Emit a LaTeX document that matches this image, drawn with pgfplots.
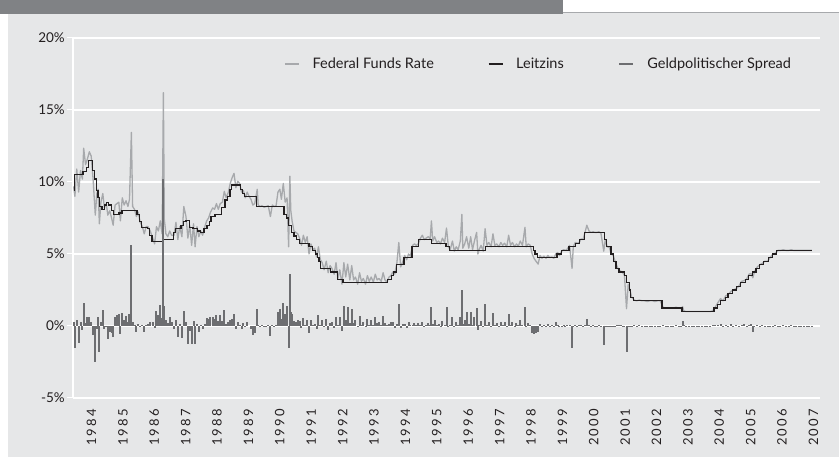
\documentclass[border=0pt]{standalone}
\usepackage{pgfplots}
\usepackage{pgfplotstable}
\pgfplotsset{compat=1.18}
\usepackage{fontspec}
\setmainfont{Lato}
\definecolor{bg}{HTML}{E6E7E8}
\definecolor{barc}{HTML}{808285}
\definecolor{ffrc}{HTML}{A7A9AC}
\definecolor{sprc}{HTML}{6D6E71}
\definecolor{txt}{HTML}{231F20}

\pgfplotstableread{
t f s
1984.10 9.7 0.25
1984.14 9.0 -1.5
1984.20 10.9 0.4
1984.26 9.3 -1.2
1984.32 10.8 0.3
1984.38 10.2 -0.3
1984.42 12.35 1.6
1984.48 11.2 0.2
1984.54 11.6 0.6
1984.60 12.1 0.6
1984.66 11.8 0.3
1984.72 10.2 -0.6
1984.79 7.7 -2.5
1984.84 9.2 -0.2
1984.88 9.5 0.6
1984.92 7.1 -1.8
1984.97 8.6 0.3
1985.03 9.2 1.1
1985.08 8.2 -0.2
1985.14 8.5 -0.1
1985.19 7.7 -0.9
1985.25 8.0 -0.4
1985.31 7.5 -0.5
1985.36 7.0 -0.75
1985.42 8.4 0.65
1985.48 8.5 0.75
1985.54 8.6 0.85
1985.59 7.3 -0.55
1985.65 8.9 0.9
1985.71 8.4 0.4
1985.77 8.7 0.7
1985.83 8.3 0.3
1985.88 8.8 0.8
1985.94 13.45 5.6
1985.98 8.3 0.3
1986.04 8.1 0.1
1986.10 7.6 -0.4
1986.16 7.9 0.15
1986.22 7.2 -0.05
1986.29 6.9 0.05
1986.35 6.4 -0.45
1986.41 6.9 0.05
1986.47 6.9 0.15
1986.54 6.6 0.3
1986.62 6.1 0.25
1986.68 5.7 -0.15
1986.74 6.9 1.05
1986.80 6.6 0.75
1986.86 7.3 1.45
1986.92 6.4 0.55
1986.96 16.2 10.2
1986.99 7.4 1.4
1987.04 6.4 0.4
1987.10 6.2 0.2
1987.16 6.6 0.6
1987.22 6.3 0.3
1987.30 6.3 -0.2
1987.36 7.2 0.45
1987.42 6.0 -0.75
1987.48 6.9 0.15
1987.55 6.2 -0.8
1987.61 8.3 1.05
1987.68 7.6 0.25
1987.74 6.1 -1.25
1987.80 7.0 -0.35
1987.86 5.6 -1.25
1987.92 7.1 0.35
1987.97 5.5 -1.25
1988.03 6.9 0.15
1988.09 6.2 -0.4
1988.15 6.6 0.1
1988.21 6.3 -0.2
1988.28 6.9 0.15
1988.34 7.3 0.55
1988.40 7.5 0.5
1988.46 7.9 0.65
1988.53 8.2 0.6
1988.59 8.1 0.5
1988.65 8.5 0.75
1988.71 8.1 0.35
1988.77 8.5 0.75
1988.84 8.6 0.35
1988.90 9.35 1.1
1988.96 8.9 0.15
1989.03 9.3 0.3
1989.09 9.9 0.4
1989.15 10.3 0.5
1989.21 10.6 0.8
1989.27 9.6 -0.2
1989.33 10.05 0.25
1989.39 9.9 0.1
1989.45 9.3 -0.2
1989.51 9.4 0.2
1989.57 8.9 -0.1
1989.63 9.3 0.3
1989.69 9.0 0.0
1989.75 8.8 -0.2
1989.81 8.4 -0.6
1989.87 8.5 -0.5
1989.95 9.5 1.2
1989.98 8.4 0.1
1990.04 8.3 0.02
1990.10 8.35 0.05
1990.17 8.25 -0.05
1990.24 8.3 0.02
1990.30 8.35 0.05
1990.37 7.6 -0.7
1990.43 8.4 0.1
1990.49 8.3 0.02
1990.55 8.35 0.07
1990.61 9.3 1.0
1990.67 9.5 1.2
1990.72 8.8 0.5
1990.78 9.9 1.6
1990.84 8.6 0.85
1990.90 8.9 1.4
1990.95 5.5 -1.5
1990.99 10.4 3.6
1991.02 8.0 1.0
1991.06 7.3 0.8
1991.12 6.6 0.35
1991.18 6.5 0.25
1991.24 6.4 0.4
1991.30 6.1 0.35
1991.36 5.6 -0.15
1991.42 6.3 0.55
1991.48 5.8 0.05
1991.54 6.2 0.45
1991.60 5.0 -0.5
1991.66 5.7 0.45
1991.72 5.3 0.05
1991.78 5.4 0.15
1991.84 4.8 -0.2
1991.90 5.5 0.75
1991.96 4.6 0.1
1992.02 4.4 0.4
1992.08 3.9 -0.1
1992.15 4.5 0.5
1992.21 3.7 -0.3
1992.27 4.2 0.2
1992.33 4.0 0.25
1992.40 3.6 -0.15
1992.46 4.4 0.65
1992.52 3.3 0.05
1992.58 3.9 0.65
1992.65 2.9 -0.35
1992.71 4.4 1.4
1992.77 3.4 0.4
1992.83 4.3 1.3
1992.90 3.2 0.2
1992.96 4.2 1.2
1993.02 3.2 0.2
1993.08 3.4 0.4
1993.15 2.9 -0.1
1993.21 3.7 0.7
1993.27 3.1 0.1
1993.33 3.3 0.3
1993.40 2.9 -0.1
1993.46 3.5 0.5
1993.52 3.1 0.1
1993.58 3.4 0.4
1993.65 3.05 0.05
1993.71 3.6 0.6
1993.77 3.2 0.2
1993.83 3.3 0.3
1993.90 3.1 0.1
1993.96 3.7 0.7
1994.02 3.2 0.2
1994.08 3.05 0.05
1994.15 3.4 0.15
1994.21 3.5 0.25
1994.27 3.75 0.25
1994.33 3.6 -0.15
1994.40 4.4 0.15
1994.46 5.8 1.55
1994.52 4.1 -0.15
1994.58 4.4 0.15
1994.65 4.9 0.15
1994.71 4.6 -0.15
1994.77 5.0 0.25
1994.83 4.85 0.1
1994.90 5.6 0.1
1994.96 5.7 0.2
1995.02 5.6 0.1
1995.08 5.7 0.2
1995.15 6.1 0.1
1995.21 6.3 0.3
1995.27 6.0 0.02
1995.33 6.1 0.1
1995.40 6.2 0.2
1995.46 6.05 0.05
1995.50 7.3 1.3
1995.54 5.9 0.15
1995.60 6.2 0.45
1995.67 5.8 0.05
1995.73 5.9 0.15
1995.79 5.7 -0.05
1995.85 6.1 0.35
1995.92 5.8 0.05
1995.98 6.8 1.3
1996.04 5.5 0.02
1996.10 5.3 0.05
1996.17 5.9 0.65
1996.23 5.2 -0.05
1996.29 5.5 0.25
1996.35 5.3 0.05
1996.42 5.9 0.65
1996.47 7.75 2.5
1996.50 5.4 0.15
1996.56 5.7 0.45
1996.62 6.2 0.95
1996.69 5.4 0.15
1996.75 6.2 0.95
1996.81 5.3 0.05
1996.87 5.9 0.65
1996.94 6.5 1.25
1996.98 5.0 -0.25
1997.02 5.3 0.05
1997.08 5.6 0.35
1997.15 5.2 -0.05
1997.21 6.75 1.5
1997.27 5.6 0.1
1997.33 5.8 0.3
1997.40 5.5 0.02
1997.46 6.4 0.9
1997.52 5.6 0.1
1997.58 5.7 0.2
1997.65 5.5 0.02
1997.71 5.8 0.3
1997.77 5.6 0.1
1997.83 5.75 0.25
1997.90 5.5 0.02
1997.96 6.3 0.8
1998.02 5.6 0.1
1998.08 5.8 0.3
1998.15 5.5 0.02
1998.21 5.7 0.2
1998.27 5.55 0.05
1998.33 5.9 0.4
1998.40 5.6 0.1
1998.48 6.85 1.35
1998.52 5.5 0.02
1998.58 5.7 0.2
1998.65 5.6 0.1
1998.71 5.0 -0.5
1998.77 4.7 -0.55
1998.83 4.5 -0.5
1998.90 4.3 -0.45
1998.96 4.9 0.15
1999.02 4.7 -0.05
1999.08 4.85 0.1
1999.15 4.7 -0.05
1999.21 4.9 0.15
1999.27 4.75 0.02
1999.33 4.8 0.05
1999.40 4.7 -0.05
1999.46 5.0 0.25
1999.52 5.1 0.1
1999.58 4.9 -0.1
1999.65 5.2 -0.05
1999.71 5.3 0.05
1999.77 5.25 0.02
1999.83 5.35 0.1
1999.90 5.6 0.1
1999.98 4.0 -1.5
2000.02 5.5 0.02
2000.08 5.8 0.05
2000.15 5.75 0.02
2000.21 5.8 0.05
2000.27 6.05 0.05
2000.33 6.0 0.02
2000.40 6.55 0.05
2000.45 7.0 0.5
2000.52 6.6 0.1
2000.58 6.5 0.02
2000.65 6.55 0.05
2000.71 6.5 0.02
2000.77 6.5 0.02
2000.83 6.55 0.05
2000.90 6.45 -0.05
2000.99 5.2 -1.3
2001.04 6.0 0.02
2001.10 5.5 0.02
2001.17 5.45 -0.05
2001.23 5.0 0.02
2001.29 4.9 -0.1
2001.35 4.5 0.02
2001.42 4.1 0.1
2001.48 3.85 0.1
2001.54 3.8 0.05
2001.60 3.7 -0.05
2001.65 3.5 0.02
2001.715 1.2 -1.8
2001.77 2.9 -0.1
2001.83 2.45 -0.05
2001.88 2.0 0.02
2001.96 1.8 0.05
2002.04 1.75 0.02
2002.12 1.8 0.05
2002.21 1.75 0.02
2002.29 1.75 0.02
2002.38 1.7 -0.05
2002.46 1.75 0.02
2002.54 1.75 0.02
2002.62 1.7 -0.05
2002.71 1.75 0.02
2002.79 1.75 0.02
2002.88 1.3 0.05
2002.96 1.25 0.02
2003.04 1.25 0.02
2003.12 1.25 0.02
2003.21 1.25 0.02
2003.29 1.3 0.05
2003.38 1.25 0.02
2003.46 1.2 -0.05
2003.50 1.35 0.35
2003.54 1.05 0.05
2003.62 1.0 0.02
2003.71 1.0 0.02
2003.79 1.0 0.02
2003.88 1.0 0.02
2003.96 1.0 0.02
2004.04 1.0 0.02
2004.12 1.0 0.02
2004.21 1.0 0.02
2004.29 1.0 0.02
2004.38 1.0 0.02
2004.46 1.05 0.05
2004.54 1.3 0.05
2004.62 1.6 0.1
2004.71 1.9 0.15
2004.79 1.75 0.02
2004.88 2.1 0.1
2004.96 2.2 -0.05
2005.04 2.4 0.15
2005.12 2.5 0.02
2005.21 2.6 0.1
2005.29 2.75 0.02
2005.38 3.1 0.1
2005.46 3.15 0.15
2005.54 3.25 0.02
2005.62 3.6 0.1
2005.68 3.65 0.15
2005.74 3.35 -0.4
2005.79 3.75 0.02
2005.88 4.1 0.1
2005.96 4.25 0.02
2006.04 4.35 0.1
2006.12 4.5 0.02
2006.21 4.5 0.02
2006.29 4.75 0.02
2006.38 5.0 0.02
2006.46 5.05 0.05
2006.54 5.25 0.02
2006.62 5.25 0.02
2006.71 5.3 0.05
2006.79 5.25 0.02
2006.88 5.25 0.02
2006.96 5.3 0.05
2007.04 5.25 0.02
2007.12 5.25 0.02
2007.21 5.25 0.02
2007.29 5.25 0.02
2007.38 5.25 0.02
2007.46 5.25 0.02
2007.54 5.25 0.02
2007.62 5.25 0.02
}\ffrdata

\pgfplotstableread{
t r
1984.10 9.45
1984.12 10.5
1984.40 10.75
1984.50 11.0
1984.58 11.5
1984.70 10.8
1984.76 10.2
1984.82 9.4
1984.88 8.9
1984.93 8.3
1985.00 8.1
1985.08 8.4
1985.14 8.6
1985.22 8.4
1985.30 8.0
1985.36 7.75
1985.55 7.85
1985.64 8.0
1986.12 7.75
1986.20 7.25
1986.27 6.85
1986.45 6.75
1986.52 6.3
1986.60 5.85
1986.93 6.0
1987.28 6.5
1987.35 6.75
1987.52 7.0
1987.59 7.25
1987.68 7.35
1987.80 6.85
1987.90 6.75
1988.05 6.6
1988.14 6.5
1988.25 6.75
1988.35 7.0
1988.42 7.25
1988.48 7.6
1988.60 7.75
1988.82 8.25
1988.92 8.75
1989.00 9.0
1989.08 9.5
1989.12 9.8
1989.42 9.5
1989.48 9.2
1989.55 9.0
1989.93 8.28
1990.80 7.75
1990.88 7.5
1990.95 7.0
1991.05 6.5
1991.12 6.25
1991.20 6.0
1991.30 5.75
1991.60 5.5
1991.70 5.25
1991.80 5.0
1991.86 4.75
1991.92 4.5
1991.97 4.0
1992.28 3.75
1992.50 3.25
1992.68 3.0
1994.09 3.25
1994.22 3.5
1994.30 3.75
1994.38 4.25
1994.63 4.75
1994.88 5.5
1995.09 6.0
1995.51 5.75
1995.96 5.5
1996.08 5.25
1997.23 5.5
1998.75 5.25
1998.80 5.0
1998.88 4.75
1999.50 5.0
1999.65 5.25
1999.88 5.5
2000.08 5.75
2000.22 6.0
2000.38 6.5
2001.01 6.0
2001.08 5.5
2001.22 5.0
2001.30 4.5
2001.38 4.0
2001.48 3.75
2001.64 3.5
2001.71 3.0
2001.80 2.5
2001.85 2.0
2001.94 1.75
2002.85 1.25
2003.48 1.0
2004.50 1.25
2004.61 1.5
2004.72 1.75
2004.86 2.0
2004.95 2.25
2005.09 2.5
2005.22 2.75
2005.34 3.0
2005.50 3.25
2005.61 3.5
2005.72 3.75
2005.84 4.0
2005.95 4.25
2006.08 4.5
2006.24 4.75
2006.36 5.0
2006.49 5.25
2007.62 5.25
}\leitzins

\begin{document}
\begin{tikzpicture}
\useasboundingbox (0pt,0pt) rectangle (839pt,457pt);
\fill[white] (0pt,0pt) rectangle (839pt,457pt);
\fill[bg] (8pt,0pt) rectangle (839pt,444pt);
\fill[barc] (0pt,443pt) rectangle (563pt,457pt);
\draw[ffrc, line width=1.5pt] (563pt,444.5pt) -- (839pt,444.5pt);
\begin{axis}[
  at={(73pt,59pt)}, anchor=south west,
  scale only axis, width=747pt, height=360pt,
  xmin=1984.08, xmax=2007.88, ymin=-5, ymax=20,
  axis lines*=left,
  x axis line style={draw=none},
  y axis line style={draw=white, line width=1.2pt},
  ymajorgrids, grid style={white, line width=1.2pt},
  ytick={-5,0,5,10,15,20},
  yticklabels={-5\%,0\%,5\%,10\%,15\%,20\%},
  xtick={1984.67,1985.67,1986.67,1987.67,1988.67,1989.67,1990.67,1991.67,1992.67,1993.67,1994.67,1995.67,1996.67,1997.67,1998.67,1999.67,2000.67,2001.67,2002.67,2003.67,2004.67,2005.67,2006.67,2007.67},
  xticklabels={1984,1985,1986,1987,1988,1989,1990,1991,1992,1993,1994,1995,1996,1997,1998,1999,2000,2001,2002,2003,2004,2005,2006,2007},
  tick align=outside, major tick length=6pt,
  xtick style={draw=none},
  ytick style={draw=white, line width=1pt},
  yticklabel style={font=\fontsize{13.5}{15}\selectfont, text=txt, inner sep=2pt},
  xticklabel style={rotate=90, anchor=east, font=\fontsize{13}{15}\selectfont\addfontfeatures{LetterSpace=18}, text=txt, inner sep=4.5pt},
  legend columns=3,
  legend style={draw=none, fill=none, at={(0.2825,0.928)}, anchor=west, font=\fontsize{14.5}{16}\selectfont, text=txt, inner sep=0pt,
    /tikz/every odd column/.append style={column sep=11pt},
    /tikz/every even column/.append style={column sep=52pt}},
  legend cell align=left,
  legend image code/.code={\draw[#1] (0pt,0pt) -- (14pt,0pt);},
]
\addplot[ffrc, line width=1.3pt, line join=round] table[x=t, y=f] {\ffrdata};
\addlegendentry{Federal Funds Rate}
\addplot[txt, line width=1.3pt, const plot mark left] table[x=t, y=r] {\leitzins};
\addlegendentry{Leitzins}
\addplot[sprc, ycomb, line width=2pt, legend image code/.code={\draw[sprc, line width=2.5pt] (0pt,0pt) -- (14pt,0pt);}] table[x=t, y=s] {\ffrdata};
\addlegendentry{Geldpolitischer Spread}
\end{axis}
\end{tikzpicture}
\end{document}
